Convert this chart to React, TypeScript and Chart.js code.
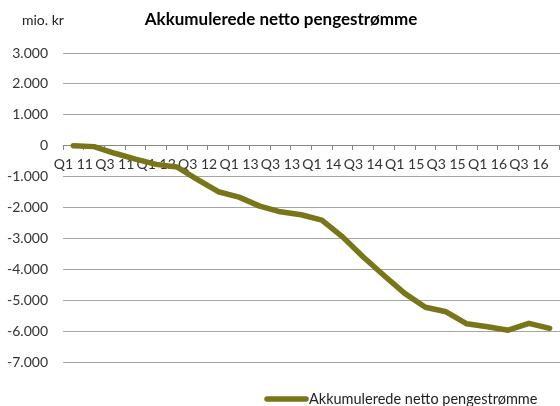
import React, { useEffect, useRef } from "react";
import { Chart, registerables } from "chart.js";

Chart.register(...registerables);

const categories: string[] = [
  "Q1 11", "Q2 11", "Q3 11", "Q4 11",
  "Q1 12", "Q2 12", "Q3 12", "Q4 12",
  "Q1 13", "Q2 13", "Q3 13", "Q4 13",
  "Q1 14", "Q2 14", "Q3 14", "Q4 14",
  "Q1 15", "Q2 15", "Q3 15", "Q4 15",
  "Q1 16", "Q2 16", "Q3 16", "Q4 16",
];

const seriesName = "Akkumulerede netto pengestrømme";
const seriesValues: number[] = [
  0, -30, -245, -435,
  -605, -690, -1100, -1490,
  -1665, -1955, -2140, -2235,
  -2410, -2950, -3600, -4200,
  -4780, -5230, -5375, -5765,
  -5860, -5970, -5750, -5910,
];

const yMin = -7000;
const yMax = 3000;
const yStep = 1000;
const unitLabel = "mio. kr";
const chartTitle = "Akkumulerede netto pengestrømme";

const FONT = "Lato, 'Open Sans', sans-serif";
const LINE_COLOR = "#787619";

function fmt(v: number): string {
  const s = Math.abs(v).toString().replace(/\B(?=(\d{3})+(?!\d))/g, ".");
  return (v < 0 ? "-" : "") + s;
}

const headerPlugin = {
  id: "header",
  afterDraw(chart: any) {
    const ctx = chart.ctx;
    ctx.save();
    ctx.textBaseline = "middle";
    ctx.fillStyle = "#222";
    ctx.font = `14px ${FONT}`;
    ctx.textAlign = "left";
    ctx.fillText(unitLabel, 22, 20);
    ctx.fillStyle = "#000";
    ctx.font = `bold 17px ${FONT}`;
    ctx.textAlign = "center";
    ctx.fillText(chartTitle, 281, 20);
    // legend
    const ds = chart.data.datasets[0];
    ctx.strokeStyle = ds.borderColor;
    ctx.lineWidth = 5.5;
    ctx.lineCap = "round";
    ctx.beginPath();
    ctx.moveTo(267, 399);
    ctx.lineTo(306, 399);
    ctx.stroke();
    ctx.fillStyle = "#222";
    ctx.font = `14.5px ${FONT}`;
    ctx.textAlign = "left";
    ctx.fillText(ds.label, 309, 399);
    ctx.restore();
  },
};

export default function App() {
  const ref = useRef<HTMLCanvasElement | null>(null);
  useEffect(() => {
    if (!ref.current) return;
    const chart = new Chart(ref.current, {
      type: "line",
      data: {
        labels: categories,
        datasets: [
          {
            label: seriesName,
            data: seriesValues,
            borderColor: LINE_COLOR,
            backgroundColor: LINE_COLOR,
            borderWidth: 5.5,
            pointRadius: 0,
            tension: 0,
            borderJoinStyle: "round",
            borderCapStyle: "round",
          },
        ],
      },
      options: {
        animation: false,
        responsive: false,
        devicePixelRatio: 1,
        layout: { padding: { top: 53, bottom: 44, left: 0, right: 0 } },
        plugins: {
          legend: { display: false },
          title: { display: false },
          tooltip: { enabled: false },
        },
        scales: {
          x: {
            type: "category",
            position: { y: 0 },
            offset: true,
            grid: {
              offset: true,
              drawOnChartArea: false,
              drawTicks: true,
              tickLength: 4,
              color: "#868686",
            },
            border: { display: true, color: "#868686", width: 1 },
            ticks: {
              autoSkip: false,
              maxRotation: 0,
              minRotation: 0,
              padding: 6,
              color: "#333",
              font: { family: FONT, size: 14 },
              callback: (_v: any, i: number) => (i % 2 === 0 ? categories[i] : ""),
            },
          },
          y: {
            min: yMin,
            max: yMax,
            afterFit: (scale: any) => {
              scale.width = 63;
            },
            grid: { color: "#A5A5A5", drawTicks: false, lineWidth: 1 },
            border: { display: false },
            ticks: {
              stepSize: yStep,
              padding: 15,
              color: "#333",
              font: { family: FONT, size: 14 },
              callback: (v: any) => fmt(Number(v)),
            },
          },
        },
      },
      plugins: [headerPlugin],
    });
    return () => chart.destroy();
  }, []);
  return (
    <div style={{ position: "absolute", left: 0, top: 0, width: 560, height: 406, background: "#fff" }}>
      <canvas ref={ref} width={560} height={406} />
    </div>
  );
}
